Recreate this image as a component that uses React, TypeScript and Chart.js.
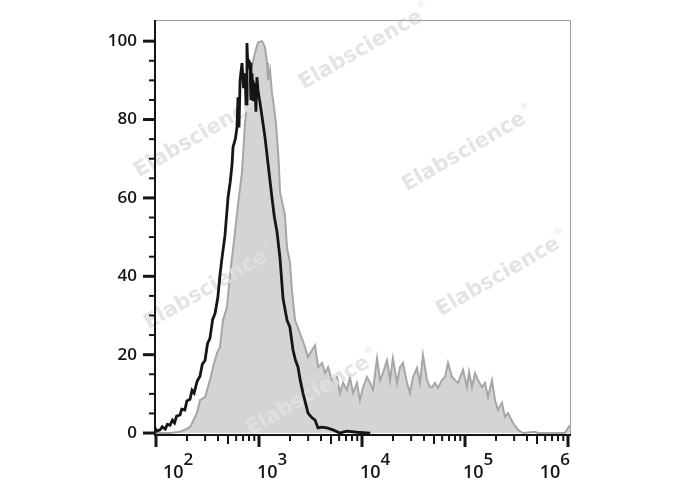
import { useEffect, useRef } from "react";
import { Chart, registerables } from "chart.js";

Chart.register(...registerables);

// Fluorescence intensity as log10 exponents, and normalised counts (% of max)
const grayLogX = [
  1.99, 2.136, 2.233, 2.33, 2.398, 2.427, 2.476, 2.524, 2.553, 2.592,
  2.621, 2.65, 2.689, 2.718, 2.767, 2.796, 2.835, 2.864, 2.893, 2.913,
  2.961, 2.99, 3.029, 3.058, 3.078, 3.087, 3.107, 3.126, 3.136, 3.165,
  3.184, 3.194, 3.204, 3.252, 3.272, 3.3, 3.32, 3.35, 3.398, 3.447,
  3.476, 3.515, 3.544, 3.573, 3.612, 3.641, 3.67, 3.709, 3.757, 3.786,
  3.816, 3.854, 3.883, 3.913, 3.951, 3.98, 4.01, 4.049, 4.078, 4.107,
  4.146, 4.175, 4.204, 4.243, 4.272, 4.3, 4.34, 4.369, 4.398, 4.437,
  4.466, 4.495, 4.534, 4.563, 4.592, 4.631, 4.66, 4.68, 4.709, 4.738,
  4.777, 4.806, 4.835, 4.874, 4.903, 4.932, 4.981, 5.019, 5.039, 5.068,
  5.097, 5.126, 5.165, 5.194, 5.223, 5.262, 5.291, 5.32, 5.359, 5.388,
  5.417, 5.466, 5.515, 5.563, 5.68, 5.709, 5.92, 5.97, 6.0, 6.02,
];
const grayCount = [
  0, 0, 0.3, 1.5, 5.1, 8.4, 9.2, 13.5, 16.8, 20.4,
  21.9, 28.8, 32.1, 40.3, 51.3, 58.2, 66.6, 79.1, 85.7, 91.8,
  96.9, 99.7, 100, 98.5, 94.4, 90, 92.6, 86.7, 85, 79.1,
  72.2, 67.9, 61.5, 55.6, 47.2, 43.6, 36.5, 28.8, 25.5, 21.9,
  19.4, 21.2, 22.4, 16.8, 17.9, 15.3, 16.8, 13.5, 14.3, 10.2,
  12.8, 11, 14.3, 10.2, 12.8, 8.4, 11.7, 14.3, 12.8, 11,
  19.1, 13.5, 15.3, 18.6, 13.5, 19.1, 12.8, 16.8, 17.9, 12.8,
  10.2, 14.3, 16.6, 12.8, 19.9, 13.5, 11.7, 11.7, 12.8, 11.5,
  13.5, 14.3, 17.9, 14.3, 13.5, 12.8, 16.1, 11.7, 15.6, 11.7,
  15.3, 13.5, 11.7, 12.8, 9.2, 13.5, 8.4, 5.9, 7.7, 4.1,
  5.1, 2.6, 0.8, 0, 0.3, 0, 0, 0, 1.3, 2,
];

const blackLogX = [
  1.99, 2.01, 2.04, 2.06, 2.09, 2.11, 2.136, 2.16, 2.18, 2.2,
  2.233, 2.25, 2.28, 2.3, 2.33, 2.35, 2.37, 2.4, 2.427, 2.45,
  2.476, 2.5, 2.524, 2.55, 2.573, 2.6, 2.621, 2.64,
  2.67, 2.699, 2.72, 2.738, 2.748, 2.77, 2.786, 2.796, 2.806, 2.816,
  2.835, 2.85, 2.864, 2.874, 2.883, 2.893, 2.9, 2.913, 2.922, 2.932,
  2.942, 2.951, 2.961, 2.97, 2.98, 2.99, 3.01, 3.039, 3.058, 3.087,
  3.126, 3.15, 3.175, 3.204, 3.233, 3.272, 3.3, 3.33, 3.355, 3.379,
  3.4, 3.427, 3.476, 3.51, 3.544, 3.573, 3.61, 3.66, 3.718, 3.786,
  3.85, 3.95, 4.08,
];
const blackCount = [
  1.3, 0.5, 0.8, 1.6, 1.0, 2.2, 2.0, 3.3, 2.6, 4.3,
  4.6, 6.1, 5.9, 8.2, 8.6, 10.9, 10.2, 13.3, 14.5, 17.6,
  18.5, 22.8, 24.2, 29.0, 30.5, 34.5, 40.3, 44.5,
  50.5, 60, 64, 68.4, 73, 75, 78, 85.7, 78, 90,
  94.4, 88, 91.8, 84, 99.5, 93, 95, 94.4, 85, 91.8,
  85, 89, 88.3, 82, 90.8, 87.5, 84.2, 79, 75.5, 68.9,
  60, 55, 51.3, 44.6, 34.4, 28.8, 27, 21.2, 18.5, 16.8,
  13.5, 10.2, 5.1, 4, 3.3, 1.3, 1.5, 1.3, 0.8, 0,
  0.5, 0.2, 0,
];

const xTickExponents = [2, 3, 4, 5, 6];
const yTickValues = [0, 20, 40, 60, 80, 100];
const watermarkText = "Elabscience";

const FONT = '"Open Sans", "DejaVu Sans", sans-serif';
const WM_FONT = '"DejaVu Sans", Verdana, sans-serif';

const watermarkPlugin = {
  id: "watermark",
  afterDatasetDraw(chart: any, args: any) {
    if (args.index !== 1) return;
    const ctx = chart.ctx;
    const spots = [
      [361, 50],
      [464, 152],
      [196, 138],
      [206, 290],
      [498, 277],
      [308, 396],
    ];
    ctx.save();
    for (const [cx, cy] of spots) {
      ctx.save();
      ctx.translate(cx, cy);
      ctx.rotate((-30 * Math.PI) / 180);
      ctx.font = `bold 21px ${WM_FONT}`;
      ctx.fillStyle = "rgba(224,224,224,0.88)";
      ctx.textAlign = "center";
      ctx.textBaseline = "middle";
      ctx.fillText(watermarkText, 0, 0);
      const w = ctx.measureText(watermarkText).width;
      ctx.font = `9px ${WM_FONT}`;
      ctx.textAlign = "left";
      ctx.fillText("®", w / 2 + 1, -9);
      ctx.restore();
    }
    ctx.restore();
  },
};

const axesPlugin = {
  id: "flowAxes",
  afterDraw(chart: any) {
    const { ctx, chartArea: a, scales } = chart;
    const x = scales.x;
    const y = scales.y;
    ctx.save();
    // light frame (top/right)
    ctx.strokeStyle = "#a0a0a0";
    ctx.lineWidth = 1;
    ctx.beginPath();
    ctx.moveTo(a.left, a.top + 0.5);
    ctx.lineTo(a.right + 0.5, a.top + 0.5);
    ctx.lineTo(a.right + 0.5, a.bottom);
    ctx.stroke();

    // main axes
    ctx.strokeStyle = "#151515";
    ctx.lineWidth = 2;
    ctx.beginPath();
    ctx.moveTo(a.left, a.top);
    ctx.lineTo(a.left, a.bottom + 1);
    ctx.moveTo(a.left - 1, a.bottom);
    ctx.lineTo(a.right + 1, a.bottom);
    ctx.stroke();

    // y ticks
    for (let v = 0; v <= 100; v += 5) {
      const py = y.getPixelForValue(v);
      const major = v % 20 === 0;
      ctx.lineWidth = major ? 3 : 2;
      ctx.beginPath();
      ctx.moveTo(a.left - (major ? 12 : 6), py);
      ctx.lineTo(a.left, py);
      ctx.stroke();
    }
    ctx.fillStyle = "#151515";
    ctx.font = `600 17px ${FONT}`;
    ctx.textAlign = "right";
    ctx.textBaseline = "middle";
    for (const v of yTickValues) {
      ctx.fillText(String(v), a.left - 18, y.getPixelForValue(v));
    }

    // x ticks (log decades with minor ticks)
    for (let e = 2; e <= 6; e++) {
      for (let m = 1; m <= 9; m++) {
        if (e === 6 && m > 1) break;
        const px = x.getPixelForValue(m * Math.pow(10, e));
        if (px < a.left - 2 || px > a.right + 2) continue;
        const len = m === 1 ? 12 : m === 5 ? 9 : 6;
        ctx.lineWidth = m === 1 ? 3 : 2;
        ctx.beginPath();
        ctx.moveTo(px, a.bottom);
        ctx.lineTo(px, a.bottom + len);
        ctx.stroke();
      }
    }

    // x labels 10^n
    ctx.textAlign = "left";
    ctx.textBaseline = "alphabetic";
    xTickExponents.forEach((e, i) => {
      const px = x.getPixelForValue(Math.pow(10, e));
      ctx.font = `600 18px ${FONT}`;
      const w10 = ctx.measureText("10").width;
      ctx.font = `600 17px ${FONT}`;
      const wExp = ctx.measureText(String(e)).width;
      let left;
      if (i === 0) left = px + 7;
      else if (i === xTickExponents.length - 1) left = px + 2 - (w10 + wExp);
      else left = px - 2;
      ctx.font = `600 18px ${FONT}`;
      ctx.fillText("10", left, a.bottom + 43);
      ctx.font = `600 17px ${FONT}`;
      ctx.fillText(String(e), left + w10, a.bottom + 30);
    });
    ctx.restore();
  },
};

export default function App() {
  const ref = useRef<HTMLCanvasElement>(null);
  useEffect(() => {
    document.body.style.margin = "0";
    const canvas = ref.current;
    if (!canvas) return;
    const chart = new Chart(canvas, {
      type: "line",
      data: {
        datasets: [
          {
            label: "Stained",
            data: blackLogX.map((e, i) => ({ x: Math.pow(10, e), y: blackCount[i] })),
            borderColor: "#151515",
            borderWidth: 2.8,
            fill: false,
            pointRadius: 0,
            tension: 0,
            order: 0,
          },
          {
            label: "Control",
            data: grayLogX.map((e, i) => ({ x: Math.pow(10, e), y: grayCount[i] })),
            borderColor: "#a6a6a6",
            borderWidth: 2,
            backgroundColor: "#d4d4d4",
            fill: "origin",
            pointRadius: 0,
            tension: 0,
            order: 1,
          },
        ],
      },
      options: {
        animation: false,
        responsive: false,
        layout: { padding: { left: 155, right: 118, top: 20, bottom: 55 } },
        plugins: { legend: { display: false }, tooltip: { enabled: false } },
        scales: {
          x: {
            type: "logarithmic",
            display: false,
            min: Math.pow(10, 1.9903),
            max: Math.pow(10, 6.0194),
          },
          y: { type: "linear", display: false, min: -0.5, max: 105.4 },
        },
      },
      plugins: [watermarkPlugin, axesPlugin],
    } as any);
    return () => chart.destroy();
  }, []);
  return (
    <div style={{ width: 688, height: 490 }}>
      <canvas ref={ref} width={688} height={490} style={{ display: "block" }} />
    </div>
  );
}
